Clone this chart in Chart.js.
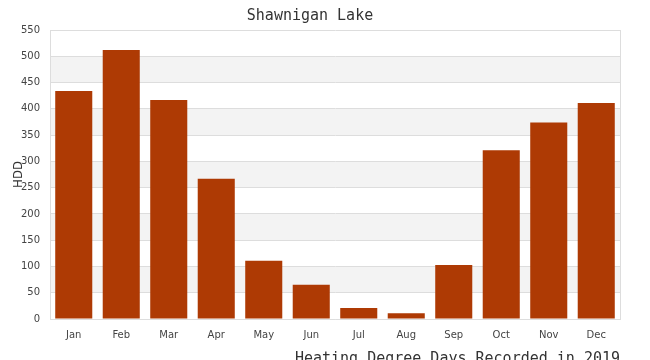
<!DOCTYPE html>
<html><head><meta charset="utf-8">
<script src="https://cdn.jsdelivr.net/npm/chart.js@4/dist/chart.umd.min.js"></script>
<style>html,body{margin:0;padding:0;background:#fff}#wrap{width:650px;height:360px}</style>
</head><body><div id="wrap"><canvas id="c" width="650" height="360"></canvas></div>
<script>
const categories = ['Jan','Feb','Mar','Apr','May','Jun','Jul','Aug','Sep','Oct','Nov','Dec'];
const hddValues = [434, 512, 417, 267, 111, 65, 21, 11, 103, 321, 374, 411];
const yTickValues = [0, 50, 100, 150, 200, 250, 300, 350, 400, 450, 500, 550];
const chartTitle = 'Shawnigan Lake';
const xAxisTitle = 'Heating Degree Days Recorded in 2019';
const yAxisTitle = 'HDD';

Chart.defaults.font.family = "'DejaVu Sans', sans-serif";

const bandsPlugin = {
  id: 'bands',
  beforeDraw(chart) {
    const {ctx, chartArea, scales} = chart;
    const y = scales.y;
    ctx.save();
    ctx.fillStyle = '#f3f3f3';
    for (let i = 1; i + 1 < yTickValues.length; i += 2) {
      const top = y.getPixelForValue(yTickValues[i + 1]);
      const bot = y.getPixelForValue(yTickValues[i]);
      ctx.fillRect(chartArea.left, top, chartArea.right - chartArea.left, bot - top);
    }
    ctx.restore();
  },
  afterDraw(chart) {
    const {ctx, chartArea} = chart;
    ctx.save();
    ctx.strokeStyle = '#dddddd';
    ctx.lineWidth = 1;
    ctx.beginPath();
    ctx.moveTo(Math.round(chartArea.right) + 0.5, chartArea.top);
    ctx.lineTo(Math.round(chartArea.right) + 0.5, chartArea.bottom);
    ctx.stroke();
    ctx.restore();
  }
};

new Chart(document.getElementById('c'), {
  type: 'bar',
  data: {
    labels: categories,
    datasets: [{
      label: 'HDD',
      data: hddValues,
      backgroundColor: '#ae3a04',
      borderWidth: 0,
      barPercentage: 0.975,
      categoryPercentage: 0.8
    }]
  },
  options: {
    responsive: false,
    animation: false,
    layout: { padding: { left: 0, right: 30, top: 0, bottom: 0 } },
    plugins: {
      legend: { display: false },
      tooltip: { enabled: false },
      title: {
        display: true,
        text: chartTitle,
        color: '#333333',
        font: { family: "'DejaVu Sans Mono', monospace", size: 15, weight: 'normal' },
        padding: { top: 7, bottom: 5 }
      }
    },
    scales: {
      x: {
        grid: { display: false, drawTicks: false },
        border: { display: true, color: '#dddddd' },
        ticks: { color: '#444444', font: { size: 10 }, padding: 10, maxRotation: 0 },
        title: {
          display: true,
          text: xAxisTitle,
          align: 'end',
          color: '#333333',
          font: { family: "'DejaVu Sans Mono', monospace", size: 15, weight: 'normal' },
          padding: { top: 0, bottom: -8 }
        },
        afterFit(scale) { scale.height = 41; }
      },
      y: {
        min: 0,
        max: 550,
        afterBuildTicks(scale) { scale.ticks = yTickValues.map(v => ({ value: v })); },
        grid: { color: '#dddddd', drawTicks: false },
        border: { display: true, color: '#dddddd' },
        ticks: { color: '#444444', font: { size: 10 }, padding: 10 },
        title: {
          display: true,
          text: yAxisTitle,
          color: '#333333',
          font: { family: "'DejaVu Sans Condensed', 'DejaVu Sans', sans-serif", size: 13, weight: 'normal' },
          padding: { top: 10.5, bottom: 0 }
        },
        afterFit(scale) { scale.width = 50; }
      }
    }
  },
  plugins: [bandsPlugin]
});
</script>
</body></html>
